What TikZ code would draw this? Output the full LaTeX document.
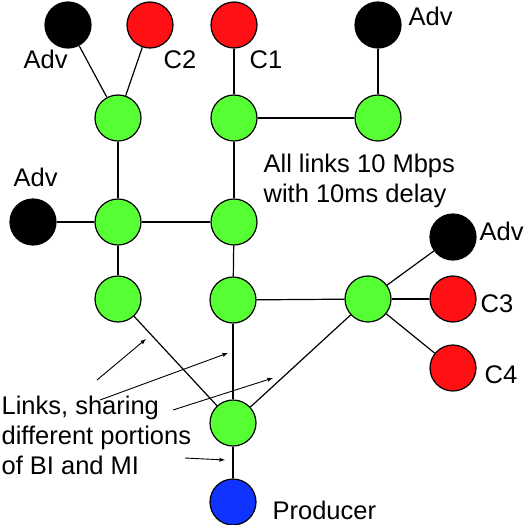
\documentclass[tikz,border=0pt]{standalone}
\usepackage{fontspec}
\setmainfont{Liberation Sans}
\usetikzlibrary{positioning}
\definecolor{rgreen}{RGB}{85,255,51}
\definecolor{cred}{RGB}{255,16,20}
\definecolor{pblue}{RGB}{17,51,255}

\begin{document}
\begin{tikzpicture}
[x=1pt,y=-1pt,
 dev/.style={circle,draw=black,line width=1.2pt,minimum size=46pt,inner sep=0pt},
 rtr/.style={dev,fill=rgreen},
 adv/.style={dev,fill=black},
 cons/.style={dev,fill=cred},
 prod/.style={dev,fill=pblue},
 txt/.style={font=\fontsize{25.5}{30}\selectfont,inner sep=0pt,align=left},
 line width=1.2pt,>=latex]
\useasboundingbox (0,0) rectangle (525,525);
% routers
\node[rtr] (r1A) at (118,118) {};
\node[rtr] (r1B) at (234,118) {};
\node[rtr] (r1C) at (378,118) {};
\node[rtr] (r2A) at (118,222) {};
\node[rtr] (r2B) at (234,222) {};
\node[rtr] (r3A) at (118,299) {};
\node[rtr] (r3B) at (233,300) {};
\node[rtr] (r3C) at (368,299) {};
\node[rtr] (r4)  at (233,423) {};
% end hosts
\node[adv]  (advA) at (68,25)   {};
\node[cons] (c2)   at (150,25)  {};
\node[cons] (c1)   at (234,25)  {};
\node[adv]  (advB) at (378,25)  {};
\node[adv]  (advC) at (33,222)  {};
\node[adv]  (advD) at (453,237) {};
\node[cons] (c3)   at (453,299) {};
\node[cons] (c4)   at (453,368) {};
\node[prod] (p)    at (233,502) {};
% links
\draw (advA) -- (r1A);
\draw (c2)   -- (r1A);
\draw (c1)   -- (r1B);
\draw (advB) -- (r1C);
\draw (r1B)  -- (r1C);
\draw (r1A)  -- (r2A);
\draw (r1B)  -- (r2B);
\draw (advC) -- (r2A);
\draw (r2A)  -- (r2B);
\draw (r2A)  -- (r3A);
\draw (r2B)  -- (r3B);
\draw (r3B)  -- (r3C);
\draw (r3C)  -- (advD);
\draw (r3C)  -- (c3);
\draw (r3C)  -- (c4);
\draw (r3A)  -- (r4);
\draw (r3B)  -- (r4);
\draw (r3C)  -- (r4);
\draw (r4)   -- (p);
% labels
\node[txt,anchor=base west] (lAdvA) at (23,68)   {Adv};
\node[txt,anchor=base west] (lC2)   at (163,68)  {C2};
\node[txt,anchor=base west] (lC1)   at (249,68)  {C1};
\node[txt,anchor=base west] (lAdvB) at (408,25)  {Adv};
\node[txt,anchor=base west] (lAdvC) at (13,186)  {Adv};
\node[txt,anchor=base west] (lAdvD) at (479,240) {Adv};
\node[txt,anchor=base west] (lC3)   at (480,312) {C3};
\node[txt,anchor=base west] (lC4)   at (484,383) {C4};
\node[txt,anchor=base west] (lP)    at (272,519) {Producer};
\node[txt,anchor=north west] (info) at (263,153) {All links 10 Mbps\\with 10ms delay};
\node[txt,anchor=north west] (share) at (1,395) {Links, sharing\\different portions\\of BI and MI};
% pointers
\coordinate (s1) at (97,380);  \coordinate (e1) at (146,339);
\coordinate (s2) at (100,400); \coordinate (e2) at (228,353);
\coordinate (s3) at (173,410); \coordinate (e3) at (273,378);
\coordinate (s4) at (185,458); \coordinate (e4) at (225,460);
\draw[->,line width=0.9pt] (s1) -- (e1);
\draw[->,line width=0.9pt] (s2) -- (e2);
\draw[->,line width=0.9pt] (s3) -- (e3);
\draw[->,line width=0.9pt] (s4) -- (e4);
\end{tikzpicture}
\end{document}
